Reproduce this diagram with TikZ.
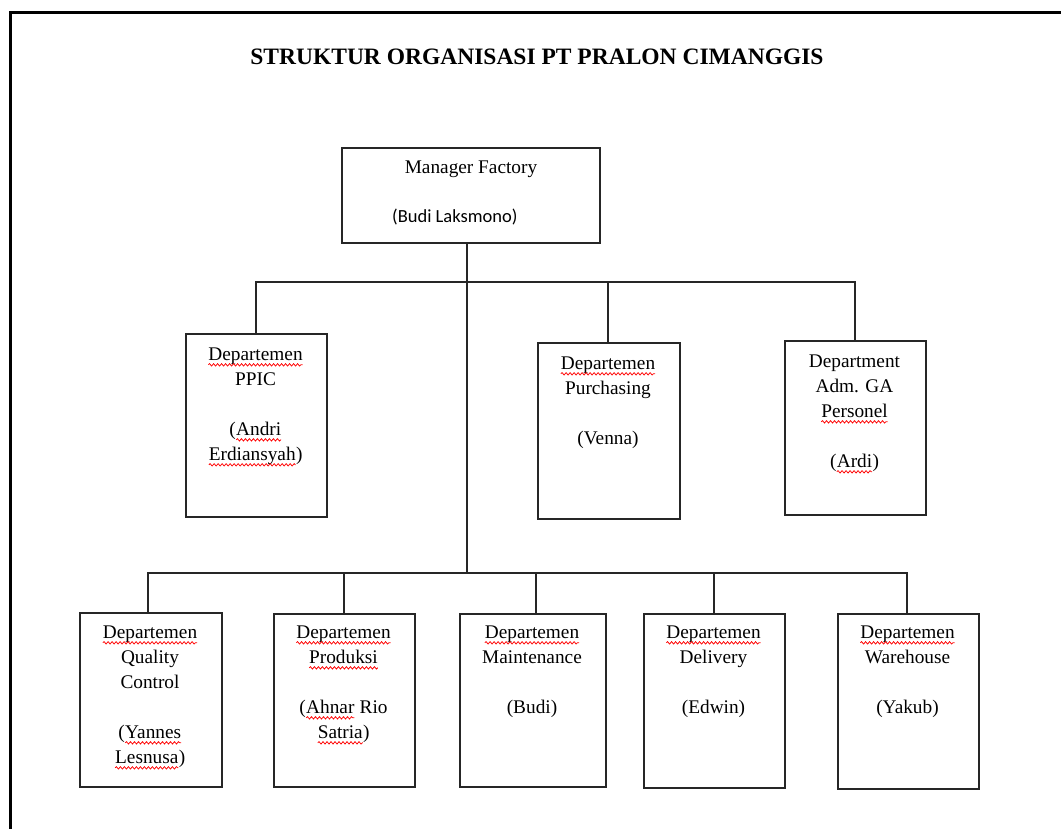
\documentclass[tikz,border=0pt]{standalone}
\usepackage{fontspec}
\setmainfont{Liberation Serif}
\newfontfamily\calib{Carlito}
\usetikzlibrary{decorations.pathmorphing}
\newcommand\rw[1]{\tikz[baseline=(w.base)]{\node[anchor=base, inner sep=0pt, outer sep=0pt, draw=none](w) at (0,0){#1};\draw[red, line width=0.75pt, decorate, decoration={snake, amplitude=1.2pt, segment length=4pt}] ([yshift=-4pt]w.base west) -- ([yshift=-4pt]w.base east);}}
\tikzset{
  bx/.style={draw=black!85, line width=1.6pt, anchor=north west, inner sep=0pt},
  txt/.style={anchor=north, align=center, inner sep=0pt, font=\fontsize{19.3}{25}\selectfont},
  ln/.style={draw=black!85, line width=1.6pt},
}
\begin{document}
\begin{tikzpicture}[x=1pt,y=-1pt]
\useasboundingbox (0,0) rectangle (1061,829);
% frame
\draw[line width=3.5pt, line join=miter] (10.5,829) -- (10.5,12.5) -- (1061,12.5);
% title
\node[inner sep=0pt, font=\fontsize{23.5}{28}\selectfont\bfseries] (title) at (537,57) {STRUKTUR ORGANISASI PT PRALON CIMANGGIS};
% manager
\node[bx, minimum width=258pt, minimum height=95pt] (mgr) at (341,147) {};
\node[txt] (mgrt) at (471,161) {Manager Factory};
\node[anchor=north west, inner sep=0pt, font=\calib\fontsize{18.5}{25}\selectfont] (mgrn) at (392,209) {(Budi Laksmono)};
% upper level
\node[bx, minimum width=141pt, minimum height=183pt] (ppic) at (185,333) {};
\node[txt] (ppict) at (255.5,348) {\rw{Departemen}\\PPIC\\[25pt](\rw{Andri}\\\rw{Erdiansyah})};
\node[bx, minimum width=142pt, minimum height=176pt] (pur) at (537,342) {};
\node[txt] (purt) at (608,357) {\rw{Departemen}\\Purchasing\\[25pt](Venna)};
\node[bx, minimum width=141pt, minimum height=174pt] (adm) at (784,340) {};
\node[txt] (admt) at (854.5,355) {Department\\Adm. GA\\\rw{Personel}\\[25pt](\rw{Ardi})};
% lower level
\node[bx, minimum width=142pt, minimum height=174pt] (qc) at (79,612) {};
\node[txt] (qct) at (150,626) {\rw{Departemen}\\Quality\\Control\\[25pt](\rw{Yannes}\\\rw{Lesnusa})};
\node[bx, minimum width=141pt, minimum height=173pt] (prd) at (273,613) {};
\node[txt] (prdt) at (343.5,626) {\rw{Departemen}\\\rw{Produksi}\\[25pt](\rw{Ahnar} Rio\\\rw{Satria})};
\node[bx, minimum width=146pt, minimum height=173pt] (mnt) at (459,613) {};
\node[txt] (mntt) at (532,626) {\rw{Departemen}\\Maintenance\\[25pt](Budi)};
\node[bx, minimum width=141pt, minimum height=174pt] (dlv) at (643,613) {};
\node[txt] (dlvt) at (713.5,626) {\rw{Departemen}\\Delivery\\[25pt](Edwin)};
\node[bx, minimum width=141pt, minimum height=175pt] (whs) at (837,613) {};
\node[txt] (whst) at (907.5,626) {\rw{Departemen}\\Warehouse\\[25pt](Yakub)};
% connectors
\coordinate (ub) at (467,282);
\coordinate (lb) at (467,573);
\draw[ln] (mgr.south -| ub) -- (lb);
\draw[ln] (ppic.north -| 256,0) -- (256,282) -- (855,282) -- (adm.north -| 855,0);
\draw[ln] (608,282) -- (pur.north -| 608,0);
\draw[ln] (qc.north -| 148,0) -- (148,573) -- (907,573) -- (whs.north -| 907,0);
\draw[ln] (344,573) -- (prd.north -| 344,0);
\draw[ln] (536,573) -- (mnt.north -| 536,0);
\draw[ln] (714,573) -- (dlv.north -| 714,0);
\end{tikzpicture}
\end{document}
